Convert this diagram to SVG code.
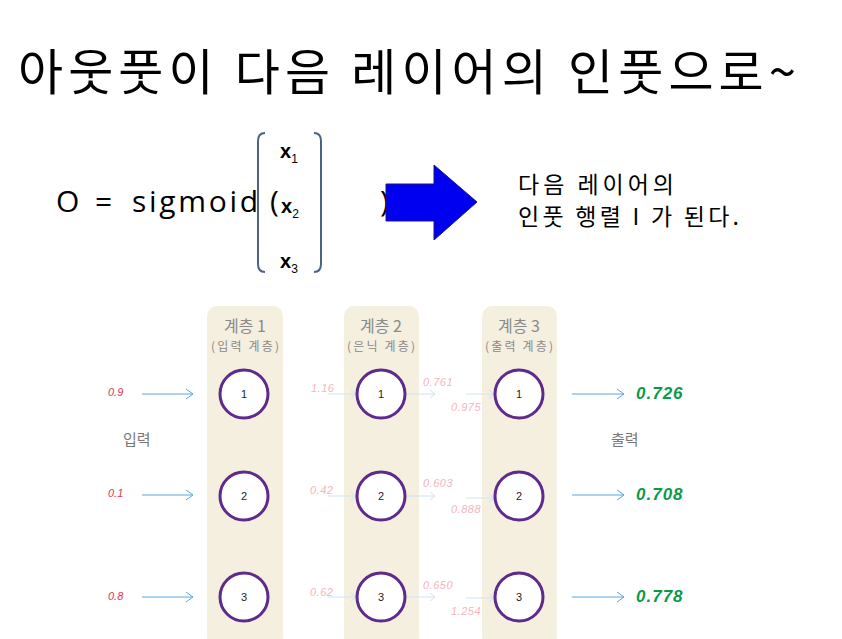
<svg xmlns="http://www.w3.org/2000/svg" width="842" height="639" viewBox="0 0 842 639">
<style>
.kr{font-family:"Noto Sans CJK KR","Noto Sans",sans-serif}
.title{font-size:49px;fill:#000}
.sub{font-size:23px;fill:#000}
.f{font-family:"Open Sans","Noto Sans",sans-serif;font-size:30px;fill:#000}
.col{fill:#f5efe0}
.hdr{font-size:16px;fill:#8a8a8a;text-anchor:middle}
.hdr2{font-size:12px;fill:#8a8a8a;text-anchor:middle}
.node circle{fill:#fff;stroke:#5e2a8c;stroke-width:3}
.node text{font-family:"Liberation Sans",sans-serif;font-size:11px;fill:#222;text-anchor:middle}
.in{font-family:"Liberation Sans",sans-serif;font-style:italic;font-size:11px;fill:#e0344f}
.out{font-family:"Liberation Sans",sans-serif;font-style:italic;font-weight:bold;font-size:17px;fill:#0a9a4a;letter-spacing:1px}
.fade{font-family:"Liberation Sans",sans-serif;font-style:italic;font-size:11px;fill:#f3b5be;letter-spacing:0.5px}
.lbl{font-size:15px;fill:#777}
.arr{stroke:#5aa5dc;stroke-width:1;fill:none}
.farr{stroke:#cfe3f2;stroke-width:1;fill:none}
.xv{font-family:"Liberation Sans",sans-serif;font-weight:bold;font-size:20px}
</style>
<rect width="842" height="639" fill="#fff"/>
<text class="kr title" x="18" y="90" textLength="778" lengthAdjust="spacing">아웃풋이 다음 레이어의 인풋으로~</text>
<g id="formula">
<text class="f" x="56" y="212">O</text>
<text class="f" x="95" y="212">=</text>
<text class="f" x="132" y="212" textLength="126" lengthAdjust="spacing">sigmoid</text>
<text class="f" x="270" y="212">(</text>
<text class="f" x="380" y="212">)</text>
<path d="M265 133 Q258 133 258 141 L258 264 Q258 272 265 272" fill="none" stroke="#4a6387" stroke-width="2"/>
<path d="M314 133 Q321 133 321 141 L321 264 Q321 272 314 272" fill="none" stroke="#4a6387" stroke-width="2"/>
<text class="xv" x="280" y="158">x<tspan font-size="12" font-weight="normal" dy="5">1</tspan></text>
<text class="xv" x="281" y="213">x<tspan font-size="12" font-weight="normal" dy="5">2</tspan></text>
<text class="xv" x="280" y="268">x<tspan font-size="12" font-weight="normal" dy="5">3</tspan></text>
</g>
<g id="bigArrow">
<polygon points="386,184 434,184 434,165 477,202 434,240 434,221 386,221" fill="#0000f0" stroke="#1a1a80" stroke-width="1"/>
</g>
<text class="kr sub" x="518" y="193" textLength="156" lengthAdjust="spacing">다음 레이어의</text>
<text class="kr sub" x="518" y="225" textLength="221" lengthAdjust="spacing">인풋 행렬 I 가 된다.</text>

<g id="layer1"><rect class="col" x="207" y="306" width="76" height="340" rx="10"/>
<text class="kr hdr" x="245" y="332">계층 1</text><text class="kr hdr2" x="245" y="351" textLength="68" lengthAdjust="spacing">(입력 계층)</text></g>
<g id="layer2"><rect class="col" x="344" y="306" width="75" height="340" rx="10"/>
<text class="kr hdr" x="381" y="332">계층 2</text><text class="kr hdr2" x="381" y="351" textLength="68" lengthAdjust="spacing">(은닉 계층)</text></g>
<g id="layer3"><rect class="col" x="482" y="306" width="75" height="340" rx="10"/>
<text class="kr hdr" x="519" y="332">계층 3</text><text class="kr hdr2" x="519" y="351" textLength="68" lengthAdjust="spacing">(출력 계층)</text></g>

<text class="kr lbl" x="123" y="445">입력</text>
<text class="kr lbl" x="611" y="445">출력</text>

<g id="connectors">
<path class="arr" d="M142 394 H193 M186 389 L193 394 L186 399"/>
<path class="arr" d="M142 495 H193 M186 490 L193 495 L186 500"/>
<path class="arr" d="M142 597 H193 M186 592 L193 597 L186 602"/>
<path class="farr" d="M328 394 H356 M351 390 L356 394 L351 398"/>
<path class="farr" d="M328 496 H356 M351 492 L356 496 L351 500"/>
<path class="farr" d="M328 597 H356 M351 593 L356 597 L351 601"/>
<path class="farr" d="M407 394 H435 M430 390 L435 394 L430 398"/>
<path class="farr" d="M407 496 H435 M430 492 L435 496 L430 500"/>
<path class="farr" d="M407 597 H435 M430 593 L435 597 L430 601"/>
<path class="farr" d="M466 394 H494 M489 390 L494 394 L489 398"/>
<path class="farr" d="M466 498 H494 M489 494 L494 498 L489 502"/>
<path class="farr" d="M466 598 H494 M489 594 L494 598 L489 602"/>
<path class="arr" d="M572 394 H624 M617 389 L624 394 L617 399"/>
<path class="arr" d="M572 495 H624 M617 490 L624 495 L617 500"/>
<path class="arr" d="M572 597 H624 M617 592 L624 597 L617 602"/>
</g>

<g id="n1_1" class="node"><circle cx="244" cy="394" r="24"/><text x="244" y="398">1</text></g>
<g id="n1_2" class="node"><circle cx="244" cy="496" r="24"/><text x="244" y="500">2</text></g>
<g id="n1_3" class="node"><circle cx="244" cy="597" r="24"/><text x="244" y="601">3</text></g>
<g id="n2_1" class="node"><circle cx="381" cy="394" r="24"/><text x="381" y="398">1</text></g>
<g id="n2_2" class="node"><circle cx="381" cy="496" r="24"/><text x="381" y="500">2</text></g>
<g id="n2_3" class="node"><circle cx="381" cy="597" r="24"/><text x="381" y="601">3</text></g>
<g id="n3_1" class="node"><circle cx="519" cy="394" r="24"/><text x="519" y="398">1</text></g>
<g id="n3_2" class="node"><circle cx="519" cy="496" r="24"/><text x="519" y="500">2</text></g>
<g id="n3_3" class="node"><circle cx="519" cy="597" r="24"/><text x="519" y="601">3</text></g>

<text class="in" x="108" y="396">0.9</text>
<text class="in" x="108" y="497">0.1</text>
<text class="in" x="108" y="600">0.8</text>
<text class="fade" x="311" y="392">1.16</text>
<text class="fade" x="310" y="494">0.42</text>
<text class="fade" x="310" y="596">0.62</text>
<text class="fade" x="423" y="386">0.761</text>
<text class="fade" x="423" y="487">0.603</text>
<text class="fade" x="423" y="589">0.650</text>
<text class="fade" x="451" y="411">0.975</text>
<text class="fade" x="451" y="513">0.888</text>
<text class="fade" x="451" y="615">1.254</text>
<text class="out" x="636" y="399">0.726</text>
<text class="out" x="636" y="500">0.708</text>
<text class="out" x="636" y="602">0.778</text>
</svg>
